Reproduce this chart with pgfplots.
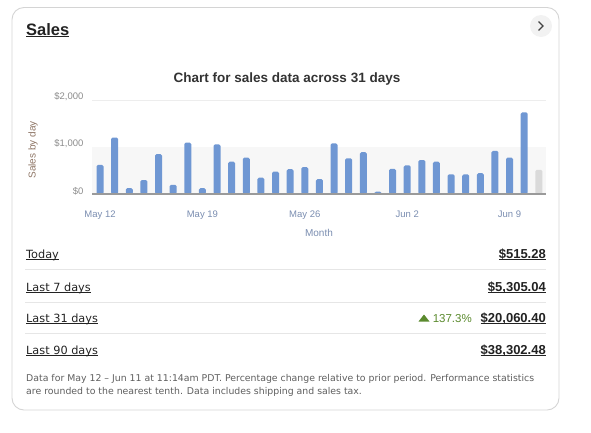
\documentclass[border=0pt]{standalone}
\usepackage{pgfplots}
\pgfplotsset{compat=1.18}
\usepackage{fontspec}
\setmainfont{Liberation Sans}
\newfontfamily\rowfont{DejaVu Sans}

\definecolor{barblue}{HTML}{6F97D3}
\definecolor{todaygray}{HTML}{DADADA}
\definecolor{cardborder}{HTML}{D4D4D4}
\definecolor{bandgray}{HTML}{F7F7F7}
\definecolor{gridgray}{HTML}{EDEDED}
\definecolor{basegray}{HTML}{9A9A9A}
\definecolor{ylabc}{HTML}{8C8C8C}
\definecolor{xlabc}{HTML}{7A8DB0}
\definecolor{ytitlec}{HTML}{8E7565}
\definecolor{titlec}{HTML}{333333}
\definecolor{inkc}{HTML}{222222}
\definecolor{sepc}{HTML}{E6E6E6}
\definecolor{upgreen}{HTML}{5B8A2E}
\definecolor{notec}{HTML}{5E5E5E}
\definecolor{btngray}{HTML}{F2F2F2}

% underlined text with the rule set just below the baseline
\newlength\ulw
\newcommand\ul[2][0.6pt]{\settowidth\ulw{#2}\rlap{\rule[-1.8pt]{\ulw}{#1}}#2}

\begin{document}
\begin{tikzpicture}[x=1pt,y=-1pt]
\path[use as bounding box] (0,0) rectangle (591,432);

% card
\draw[cardborder, line width=0.9pt, rounded corners=12pt] (12,7.5) rectangle (559,410);

% heading and chevron button
\node[anchor=base west, inner sep=0, font=\bfseries\fontsize{16.5}{18}\selectfont, text=inkc] at (26,35) {\ul[1.3pt]{Sales}};
\fill[btngray] (541,26) circle (11);
\draw[inkc!85, line width=1.3pt] (538.5,21.5) -- (543,26) -- (538.5,30.5);

% chart
\begin{axis}[
  at={(92pt,-194pt)}, anchor=south west,
  scale only axis, width=454pt, height=94pt,
  xmin=-0.547, xmax=30.49, ymin=0, ymax=2000,
  axis line style={draw=none},
  ybar, bar width=7pt, bar shift=0pt,
  xtick={0,7,14,21,28},
  xticklabels={May 12,May 19,May 26,Jun 2,Jun 9},
  ytick={0,1000,2000},
  yticklabels={{\$0},{\$1,000},{\$2,000}},
  major tick length=0pt,
  tick label style={font=\fontsize{9.5}{11}\selectfont},
  xticklabel style={text=xlabc, yshift=-13pt},
  yticklabel style={text=ylabc, xshift=-5pt, yshift=3pt},
  ymajorgrids,
  grid style={gridgray, line width=0.6pt},
  clip=false,
]
\fill[bandgray] (axis cs:-0.547,0) rectangle (axis cs:30.49,1000);
\addplot[fill=barblue, draw=none, rounded corners=1.5pt] coordinates {
  (0,622) (1,1201) (2,123) (3,297) (4,847) (5,195) (6,1092) (7,123)
  (8,1056) (9,687) (10,774) (11,347) (12,477) (13,528) (14,571) (15,316)
  (16,1078) (17,760) (18,889) (19,51) (20,536) (21,608) (22,723) (23,687)
  (24,419) (25,419) (26,442) (27,919) (28,774) (29,1736)
};
\addplot[fill=todaygray, draw=none, rounded corners=1.5pt] coordinates {(30,515.28)};
\draw[basegray, line width=1.3pt] (rel axis cs:0,0) -- (rel axis cs:1,0);
\end{axis}

\node[font=\bfseries\fontsize{13.5}{15}\selectfont, text=titlec] at (287,79) {Chart for sales data across 31 days};
\node[rotate=90, font=\fontsize{10}{12}\selectfont, text=ytitlec] at (33,150) {Sales by day};
\node[font=\fontsize{10}{12}\selectfont, text=xlabc] at (319,233) {Month};

% summary rows
\foreach \yy in {269.5,302,333.5}
  \draw[sepc, line width=0.8pt] (25,\yy) -- (546,\yy);

\begin{scope}[every node/.style={inner sep=0, text=inkc, font=\rowfont\fontsize{11.3}{13}\selectfont}]
\node[anchor=base west] at (26,258) {\ul{Today}};
\node[anchor=base west] at (26,291) {\ul{Last 7 days}};
\node[anchor=base west] at (26,322) {\ul{Last 31 days}};
\node[anchor=base west] at (26,354) {\ul{Last 90 days}};
\end{scope}
\begin{scope}[every node/.style={inner sep=0, anchor=base east, text=inkc, font=\bfseries\fontsize{13}{15}\selectfont}]
\node at (546,258) {\ul{\$515.28}};
\node at (546,291) {\ul{\$5,305.04}};
\node at (546,322) {\ul{\$20,060.40}};
\node at (546,354) {\ul{\$38,302.48}};
\end{scope}
\node[inner sep=0, anchor=base east, text=upgreen, font=\fontsize{11.5}{13}\selectfont] at (472,322) {137.3\%};
\fill[upgreen] (418.5,321.5) -- (429.5,321.5) -- (424,314.5) -- cycle;

% footnote
\begin{scope}[every node/.style={inner sep=0, anchor=base west, text=notec, font=\rowfont\fontsize{9.35}{11}\selectfont}]
\node at (26,381.5) {Data for May 12 – Jun 11 at 11:14am PDT. Percentage change relative to prior period. Performance statistics};
\node at (26,394.5) {are rounded to the nearest tenth. Data includes shipping and sales tax.};
\end{scope}
\end{tikzpicture}
\end{document}
